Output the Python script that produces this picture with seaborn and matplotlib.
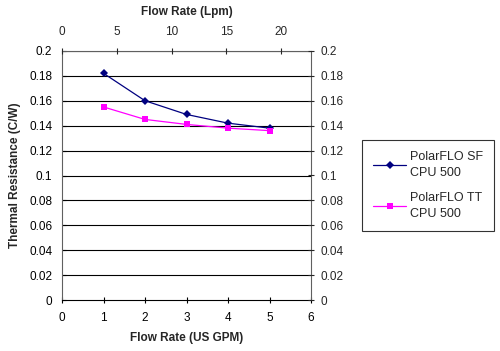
import matplotlib
matplotlib.use("Agg")
import matplotlib.pyplot as plt
import seaborn as sns
import pandas as pd
import numpy as np

flow_gpm = [1, 2, 3, 4, 5]
sf_values = [0.182, 0.160, 0.149, 0.142, 0.138]
tt_values = [0.155, 0.145, 0.141, 0.138, 0.136]
series_names = ["PolarFLO SF\nCPU 500", "PolarFLO TT\nCPU 500"]
y_ticks = [0, 0.02, 0.04, 0.06, 0.08, 0.1, 0.12, 0.14, 0.16, 0.18, 0.2]
x_ticks = [0, 1, 2, 3, 4, 5, 6]
lpm_ticks = [0, 5, 10, 15, 20]
LPM_PER_GPM = 3.785

sns.set_style("white")
plt.rcParams['font.family'] = ['Liberation Sans', 'DejaVu Sans']

df = pd.DataFrame({
    "gpm": flow_gpm * 2,
    "val": sf_values + tt_values,
    "series": [series_names[0]] * 5 + [series_names[1]] * 5,
})

FS = 8.5
fig = plt.figure(figsize=(5.0, 3.51), dpi=100)
ax = fig.add_axes([0.124, 0.145, 0.498, 0.71])

sns.lineplot(data=df, x="gpm", y="val", hue="series", style="series",
             palette=["#000080", "#FF00FF"], markers=["D", "s"], dashes=False,
             linewidth=0.9, markersize=4.5, markeredgewidth=0, ax=ax)

ax.set_xlim(0, 6)
ax.set_ylim(0, 0.2)
ax.set_xticks(x_ticks)
ax.set_yticks(y_ticks)
ax.set_xticklabels([str(v) for v in x_ticks])
ax.set_yticklabels([f"{v:g}" for v in y_ticks])
for y in y_ticks[1:]:
    ax.axhline(y, color="black", linewidth=0.8, zorder=0)
ax.tick_params(axis="x", direction="inout", length=5, width=0.8, labelsize=FS,
               colors="black", pad=6)
ax.tick_params(axis="y", direction="in", length=3, width=0.8, labelsize=FS,
               colors="black", pad=7)
for s in ["left", "right", "top", "bottom"]:
    ax.spines[s].set_color("#606060")
    ax.spines[s].set_linewidth(0.8)
ax.spines["bottom"].set_color("black")
ax.set_xlabel("Flow Rate (US GPM)", fontsize=FS, fontweight="bold", labelpad=6)
ax.set_ylabel("Thermal Resistance (C/W)", fontsize=FS, fontweight="bold", labelpad=6)

# right axis
axr = ax.twinx()
axr.set_ylim(0, 0.2)
axr.set_yticks(y_ticks)
axr.set_yticklabels([f"{v:g}" for v in y_ticks])
axr.tick_params(axis="y", direction="inout", length=5, width=0.8, labelsize=FS, pad=4)
for s in axr.spines.values():
    s.set_visible(False)

# top axis
axt = ax.twiny()
axt.set_xlim(0, 6 * LPM_PER_GPM)
axt.set_xticks(lpm_ticks)
axt.set_xticklabels([str(v) for v in lpm_ticks])
axt.tick_params(axis="x", direction="inout", length=5, width=0.8, labelsize=FS, pad=7)
axt.set_xlabel("Flow Rate (Lpm)", fontsize=FS, fontweight="bold", labelpad=8)
for s in axt.spines.values():
    s.set_visible(False)

leg = ax.legend(loc="upper left", bbox_to_anchor=(1.205, 0.643), frameon=True,
                fancybox=False, edgecolor="black", fontsize=FS + 0.5,
                handlelength=2.6, labelspacing=1.0, borderpad=0.9, handletextpad=0.3,
                borderaxespad=0)
for t in leg.get_texts():
    t.set_linespacing(1.45)
leg.get_frame().set_linewidth(0.8)

fig.savefig("out.png", dpi=100)
